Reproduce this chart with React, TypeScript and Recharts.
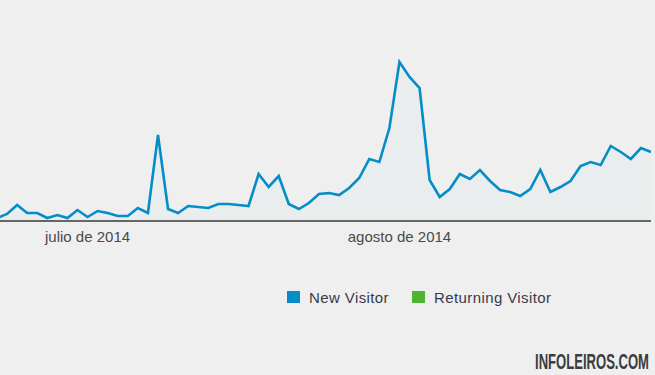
import React from "react";
import { AreaChart, Area, XAxis, YAxis } from "recharts";

// Daily categories: 22 Jun 2014 .. 26 Aug 2014
const startDay = Date.UTC(2014, 5, 22);
const days: string[] = Array.from({ length: 66 }, (_, i) =>
  new Date(startDay + i * 86400000).toISOString().slice(0, 10)
);

const newVisitors: number[] = [
  3, 7, 16, 8, 8, 3, 6, 3, 11, 4, 10, 8, 5, 5, 13, 8, 86, 12, 8, 15, 14, 13,
  17, 17, 16, 15, 47, 34, 45, 17, 12, 18, 27, 28, 26, 33, 43, 62, 59, 93, 159,
  144, 133, 41, 24, 32, 47, 42, 51, 40, 31, 29, 25, 32, 51, 29, 34, 40, 55, 59,
  56, 75, 69, 62, 73, 69,
];

const tickDays: string[] = ["2014-07-01", "2014-08-01"];
const tickLabels: string[] = ["julio de 2014", "agosto de 2014"];

const seriesNames: string[] = ["New Visitor", "Returning Visitor"];
const seriesColors: string[] = ["#058dc7", "#50b432"];

const data = days.map((d, i) => ({ day: d, newVisitor: newVisitors[i] }));

const font = "'Liberation Sans', Arial, sans-serif";

export default function App() {
  return (
    <div
      style={{
        position: "absolute",
        left: 0,
        top: 0,
        width: 655,
        height: 375,
        overflow: "hidden",
        background: "#efefef",
        fontFamily: font,
      }}
    >
      <div style={{ position: "absolute", left: -3, top: 0 }}>
        <AreaChart
          width={654}
          height={375}
          data={data}
          margin={{ top: 21, right: 0, bottom: 124, left: 0 }}
        >
          <XAxis
            dataKey="day"
            ticks={tickDays}
            interval={0}
            tickLine={false}
            tickMargin={4}
            height={30}
            stroke="#666666"
            strokeWidth={2}
            tick={{ fill: "#4a4a4a", fontSize: 15, fontFamily: font }}
            tickFormatter={(v: string) => tickLabels[tickDays.indexOf(v)] ?? ""}
          />
          <YAxis hide domain={[0, 200]} />
          <Area
            type="linear"
            dataKey="newVisitor"
            stroke={seriesColors[0]}
            strokeWidth={2.6}
            fill={seriesColors[0]}
            fillOpacity={0.02}
            dot={false}
            activeDot={false}
            isAnimationActive={false}
          />
        </AreaChart>
      </div>
      {seriesNames.map((name, i) => (
        <div
          key={name}
          style={{
            position: "absolute",
            left: i === 0 ? 287 : 412,
            top: 286,
            height: 22,
            display: "flex",
            alignItems: "center",
            fontSize: 15,
            letterSpacing: 0.4,
            color: "#3a3a4a",
            whiteSpace: "nowrap",
          }}
        >
          <span
            style={{
              display: "inline-block",
              width: 13,
              height: 12,
              background: seriesColors[i],
              marginRight: 9,
            }}
          />
          {name}
        </div>
      ))}
      <svg
        width={655}
        height={375}
        style={{ position: "absolute", left: 0, top: 0, pointerEvents: "none" }}
      >
        <g transform="translate(535,369) scale(0.6,1)">
          <text
            x={0}
            y={0}
            fontFamily={font}
            fontWeight="bold"
            fontSize={22}
            fill="#3c3c3c"
            textLength={190}
            lengthAdjust="spacingAndGlyphs"
          >
            INFOLEIROS.COM
          </text>
        </g>
      </svg>
    </div>
  );
}
